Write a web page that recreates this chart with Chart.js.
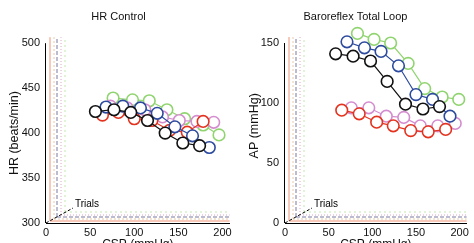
<!DOCTYPE html>
<html><head><meta charset="utf-8">
<script src="https://cdn.jsdelivr.net/npm/chart.js@4"></script>
<style>
html,body{margin:0;padding:0;background:#fff;overflow:hidden;width:474px;height:243px}
.wrap{position:absolute;top:0;width:237px;height:252px}
#w1{left:0}#w2{left:237px}
</style></head><body>
<div class="wrap" id="w1"><canvas id="c1" width="237" height="252"></canvas></div>
<div class="wrap" id="w2"><canvas id="c2" width="237" height="252"></canvas></div>
<script>
// ---- data ----
const seriesNames = ['Trial A','Trial B','Trial C','Trial D','Trial E'];
const xTicks = [0,50,100,150,200];
const hrTicks = [300,350,400,450,500];
const apTicks = [0,50,100,150];

// HR Control (CSP mmHg vs HR beats/min)
const hrBlackX = [56,77,96,115,135,155,174];
const hrBlackY = [424,426,423,414,400,389,386];
const hrBlueX  = [68,87,107,126,146,166,185];
const hrBlueY  = [429,430,428,422,407,397,384];
const hrRedX   = [64,82,100,120,140,160,178];
const hrRedY   = [420,423,416,414,403,401,413];
const hrGreenX = [76,98,117,137,157,178,196];
const hrGreenY = [439,437,436,426,416,409,398];
const hrMagX   = [73,92,112,132,151,171,190];
const hrMagY   = [430,428,426,418,414,413,412];

// Baroreflex Total Loop (CSP mmHg vs AP mmHg)
const apBlackX = [58,78,98,117,138,158,177];
const apBlackY = [141,139,135,118,99,95,97];
const apBlueX  = [71,91,110,130,150,169,189];
const apBlueY  = [151,146,143,131,107,103,89];
const apGreenX = [83,102,121,141,160,180,199];
const apGreenY = [158,153,150,133,112,105,103];
const apRedX   = [65,85,105,124,144,164,184];
const apRedY   = [94,91,84,81,77,76,78];
const apMagX   = [76,96,116,136,155,175,195];
const apMagY   = [96,96,89,88,81,81,83];

// ---- styling ----
const colBlack='#111111', colBlue='#2c4a9e', colRed='#e3331f', colGreen='#8fd46e', colMag='#d48ccf';
const planeColors = ['#ee8866','#e6c4a0','#6a6a98','#d89cc4','#bce6a8'];
const FONT = 'Liberation Sans, Arial, sans-serif';

function pts(xs, ys){ return xs.map((x,i)=>({x:x, y:ys[i]})); }
function ds(label, xs, ys, color){
  return {label, data: pts(xs,ys), borderColor: color, backgroundColor:'#ffffff',
    pointBorderColor: color, pointBackgroundColor:'#ffffff', pointRadius:5.8, pointBorderWidth:1.6,
    borderWidth:1.2, showLine:true, tension:0, clip:false};
}

const trialsDeco = {
  id:'trialsDeco',
  beforeDatasetsDraw(chart, args, opts){
    const ctx = chart.ctx, a = chart.chartArea;
    const yTop = chart.scales.y.getPixelForValue(opts.axisTop);
    ctx.save();
    const offs = [[4,-2],[8,-4],[11,-6],[15,-8],[19,-11]];
    const dashes = [[],[2,2],[4,2],[1,2],[2,3]];
    offs.forEach((o,i)=>{
      ctx.strokeStyle = planeColors[i];
      ctx.lineWidth = 0.9;
      ctx.setLineDash(dashes[i]);
      ctx.beginPath();
      ctx.moveTo(a.left+o[0], a.bottom+o[1]);
      ctx.lineTo(a.left+o[0], yTop-6);
      ctx.moveTo(a.left+o[0], a.bottom+o[1]);
      ctx.lineTo(a.right, a.bottom+o[1]);
      ctx.stroke();
    });
    ctx.setLineDash([]);
    ctx.strokeStyle = '#000';
    ctx.lineWidth = 1;
    ctx.beginPath();
    ctx.moveTo(a.left-0.5, a.bottom);
    ctx.lineTo(a.left-0.5, yTop);
    ctx.stroke();
    ctx.setLineDash([3,2]);
    ctx.beginPath();
    ctx.moveTo(a.left, a.bottom);
    ctx.lineTo(a.left+27, a.bottom-15);
    ctx.stroke();
    ctx.setLineDash([]);
    ctx.fillStyle = '#000';
    ctx.font = '10px ' + FONT;
    ctx.textBaseline = 'alphabetic';
    ctx.fillText('Trials', a.left+29, a.bottom-16);
    ctx.restore();
  }
};

function makeChart(id, title, yTitle, yMin, yMax, axisTop, titleBottom, yTicks, sets, yWidth, yTitlePad){
  return new Chart(document.getElementById(id), {
    type:'scatter',
    data:{datasets:sets},
    options:{
      responsive:false, animation:false,
      layout:{padding:{left:0,right:0,top:0,bottom:0}},
      plugins:{
        legend:{display:false}, tooltip:{enabled:false},
        trialsDeco:{axisTop:axisTop},
        title:{display:true, text:title, color:'#111', font:{family:FONT,size:11,weight:'normal'},
          padding:{top:10,bottom:titleBottom}}
      },
      scales:{
        x:{type:'linear', min:0, max:208,
          afterBuildTicks:(ax)=>{ax.ticks = xTicks.map(v=>({value:v}));},
          afterFit:(ax)=>{ax.height = 29;},
          grid:{display:false, drawTicks:false},
          border:{display:true,color:'#000',width:1},
          ticks:{color:'#111', font:{family:FONT,size:11}, padding:3, maxRotation:0},
          title:{display:true, text:'CSP (mmHg)', color:'#111', font:{family:FONT,size:12}, padding:{top:0,bottom:0}}
        },
        y:{type:'linear', min:yMin, max:yMax,
          afterBuildTicks:(ax)=>{ax.ticks = yTicks.map(v=>({value:v}));},
          afterFit:(ax)=>{ax.width = yWidth;},
          grid:{display:false, drawTicks:false},
          border:{display:false},
          ticks:{color:'#111', font:{family:FONT,size:11}, padding:6},
          title:{display:true, text:yTitle, color:'#111', font:{family:FONT,size:12.5}, padding:{top:yTitlePad,bottom:0}}
        }
      }
    },
    plugins:[trialsDeco]
  });
}

makeChart('c1','HR Control','HR (beats/min)',300,500,500,20,hrTicks,[
  ds(seriesNames[0],hrBlackX,hrBlackY,colBlack),
  ds(seriesNames[1],hrBlueX,hrBlueY,colBlue),
  ds(seriesNames[2],hrRedX,hrRedY,colRed),
  ds(seriesNames[3],hrMagX,hrMagY,colMag),
  ds(seriesNames[4],hrGreenX,hrGreenY,colGreen)
],46,7.5);

makeChart('c2','Baroreflex Total Loop','AP (mmHg)',0,162,150,5.4,apTicks,[
  ds(seriesNames[0],apBlackX,apBlackY,colBlack),
  ds(seriesNames[1],apBlueX,apBlueY,colBlue),
  ds(seriesNames[2],apRedX,apRedY,colRed),
  ds(seriesNames[3],apMagX,apMagY,colMag),
  ds(seriesNames[4],apGreenX,apGreenY,colGreen)
],48,10.5);
</script>
</body></html>
